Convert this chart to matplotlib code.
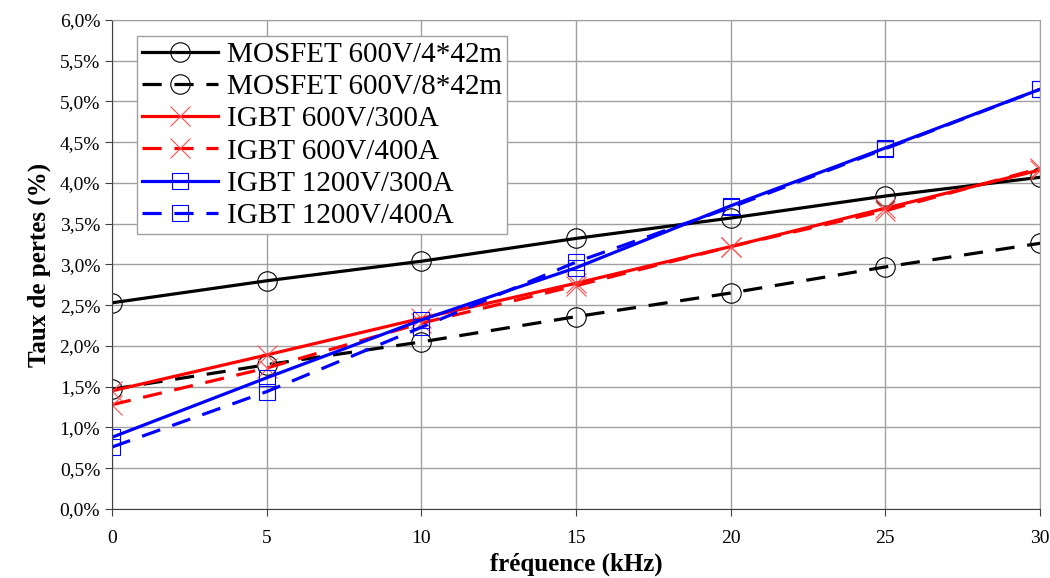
import numpy as np
import matplotlib
matplotlib.use('Agg')
import matplotlib.pyplot as plt

# Frequency (kHz) and loss ratio (%)
freq = [0, 5, 10, 15, 20, 25, 30]
mosfet_4x42 = [2.53, 2.80, 3.04, 3.32, 3.57, 3.84, 4.07]
mosfet_8x42 = [1.47, 1.77, 2.05, 2.36, 2.65, 2.97, 3.26]
igbt600_300 = [1.45, 1.89, 2.34, 2.77, 3.22, 3.69, 4.16]
igbt600_400 = [1.28, 1.73, 2.28, 2.74, 3.22, 3.66, 4.18]
igbt1200_300 = [0.88, 1.61, 2.32, 2.96, 3.72, 4.43, 5.15]
igbt1200_400 = [0.76, 1.44, 2.23, 3.03, 3.70, 4.42, 5.15]

y_ticks = [0.0, 0.5, 1.0, 1.5, 2.0, 2.5, 3.0, 3.5, 4.0, 4.5, 5.0, 5.5, 6.0]
y_labels = ['0,0%', '0,5%', '1,0%', '1,5%', '2,0%', '2,5%', '3,0%',
            '3,5%', '4,0%', '4,5%', '5,0%', '5,5%', '6,0%']
x_ticks = [0, 5, 10, 15, 20, 25, 30]

plt.rcParams['font.family'] = ['Liberation Serif', 'DejaVu Serif']

fig = plt.figure(figsize=(10.5, 5.78), dpi=100)
ax = fig.add_axes([0.1067, 0.1194, 0.8838, 0.846])

lw = 2.3
dash = (0, (6, 4))

ax.plot(freq, mosfet_4x42, color='black', lw=lw, marker='o', ms=14, mfc='none',
        mec='black', mew=0.8, label='MOSFET 600V/4*42m')
ax.plot(freq, mosfet_8x42, color='black', lw=lw, ls=dash, marker='o', ms=14, mfc='none',
        mec='black', mew=0.8, label='MOSFET 600V/8*42m')
ax.plot(freq, igbt600_300, color='red', lw=lw, marker='x', ms=14,
        mec='#ff5050', mew=0.8, label='IGBT 600V/300A')
ax.plot(freq, igbt600_400, color='red', lw=lw, ls=dash, marker='x', ms=14,
        mec='#ff5050', mew=0.8, label='IGBT 600V/400A')
ax.plot(freq, igbt1200_300, color='blue', lw=lw, marker='s', ms=12, mfc='none',
        mec='blue', mew=0.8, label='IGBT 1200V/300A')
ax.plot(freq, igbt1200_400, color='blue', lw=lw, ls=dash, marker='s', ms=12, mfc='none',
        mec='blue', mew=0.8, label='IGBT 1200V/400A')

ax.set_xlim(0, 30)
ax.set_ylim(0, 6)
ax.set_xticks(x_ticks)
ax.set_yticks(y_ticks)
ax.set_yticklabels(y_labels)
ax.tick_params(axis='both', labelsize=14, direction='out', length=5, color='#404040')
ax.tick_params(axis='x', pad=10)
ax.grid(True, color='#a0a0a0', lw=1)
ax.set_axisbelow(True)
for side in ['top', 'right']:
    ax.spines[side].set_color('#a0a0a0')
for side in ['left', 'bottom']:
    ax.spines[side].set_color('#404040')

ax.set_xlabel('fréquence (kHz)', fontsize=18, fontweight='bold', labelpad=4)
ax.set_ylabel('Taux de pertes (%)', fontsize=18, fontweight='bold', labelpad=6)

leg = ax.legend(loc='upper left', bbox_to_anchor=(0.027, 0.967), borderaxespad=0,
                fontsize=21, handlelength=2.6, labelspacing=0.2, borderpad=0.18,
                handletextpad=0.3, fancybox=False, edgecolor='#a0a0a0', framealpha=1)
leg.get_frame().set_linewidth(1)

fig.savefig('out.png', dpi=100, facecolor='white')
